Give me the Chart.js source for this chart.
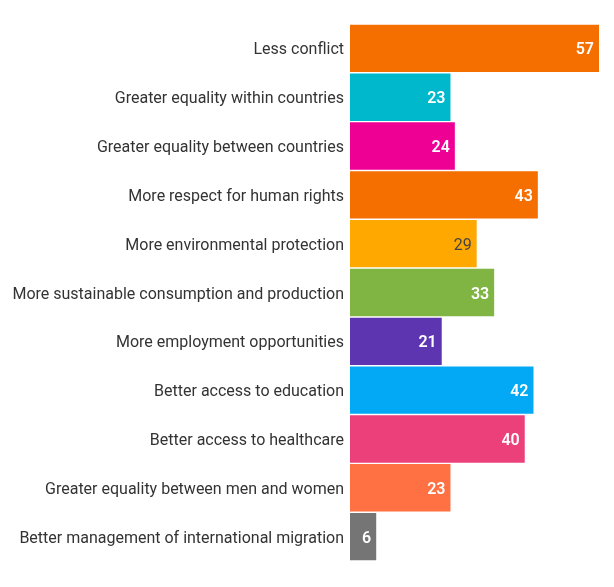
<!DOCTYPE html>
<html>
<head>
<meta charset="utf-8">
<script src="https://cdn.jsdelivr.net/npm/chart.js@4"></script>
<style>
  html, body { margin: 0; padding: 0; background: #fff; }
  #wrap { width: 614px; height: 587px; position: relative; }
</style>
</head>
<body>
<div id="wrap"><canvas id="chart"></canvas></div>
<script>
// data
const categories = [
  "Less conflict",
  "Greater equality within countries",
  "Greater equality between countries",
  "More respect for human rights",
  "More environmental protection",
  "More sustainable consumption and production",
  "More employment opportunities",
  "Better access to education",
  "Better access to healthcare",
  "Greater equality between men and women",
  "Better management of international migration"
];
const values = [57, 23, 24, 43, 29, 33, 21, 42, 40, 23, 6];
const barColors = [
  "#F56F00", "#00B8CC", "#EE0095", "#F56F00", "#FFA800", "#80B543",
  "#5E35B1", "#03A9F4", "#EC407A", "#FF7043", "#757575"
];
const labelColors = [
  "#fff", "#fff", "#fff", "#fff", "#444", "#fff",
  "#fff", "#fff", "#fff", "#fff", "#fff"
];

// value labels drawn at the end of each bar
const valueLabels = {
  id: "valueLabels",
  afterDatasetsDraw(chart) {
    const ctx = chart.ctx;
    const meta = chart.getDatasetMeta(0);
    ctx.save();
    ctx.textAlign = "right";
    ctx.textBaseline = "middle";
    meta.data.forEach((bar, i) => {
      const dark = labelColors[i] !== "#fff";
      ctx.font = (dark ? "400" : "600") + " 16px Roboto";
      ctx.fillStyle = labelColors[i];
      ctx.fillText(String(values[i]), bar.x - 5, bar.y + 2);
    });
    ctx.restore();
  }
};

new Chart(document.getElementById("chart"), {
  type: "bar",
  data: {
    labels: categories,
    datasets: [{
      data: values,
      backgroundColor: barColors,
      borderWidth: 0,
      barPercentage: 0.97,
      categoryPercentage: 1
    }]
  },
  options: {
    indexAxis: "y",
    responsive: true,
    maintainAspectRatio: false,
    animation: false,
    layout: { padding: { top: 24, right: 15, bottom: 26, left: 0 } },
    plugins: { legend: { display: false }, tooltip: { enabled: false } },
    scales: {
      x: { display: false, min: 0, max: 57 },
      y: {
        afterFit: (s) => { s.width = 350; },
        grid: { display: false, drawTicks: false },
        border: { display: false },
        ticks: {
          padding: 6,
          labelOffset: 2,
          color: "#333",
          font: { family: "Roboto", size: 16 }
        }
      }
    }
  },
  plugins: [valueLabels]
});
</script>
</body>
</html>
